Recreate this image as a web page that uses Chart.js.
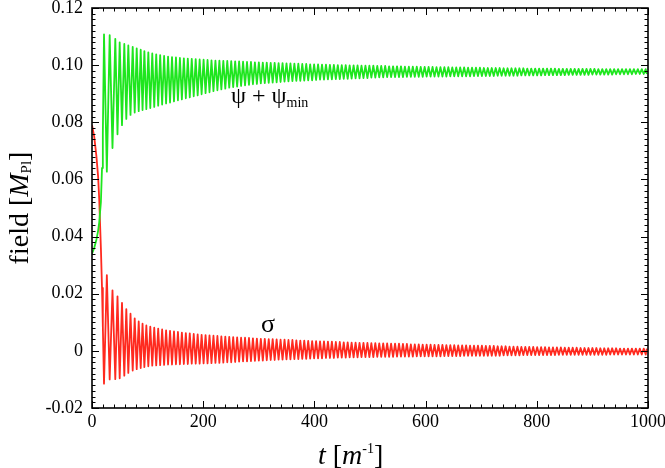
<!DOCTYPE html>
<html>
<head>
<meta charset="utf-8">
<script src="https://cdn.jsdelivr.net/npm/chart.js@4.4.1/dist/chart.umd.min.js"></script>
<style>
  html, body { margin: 0; padding: 0; background: #fff; }
</style>
</head>
<body>
<canvas id="fieldChart" width="665" height="468"></canvas>
<script>
// tick labels
const xTicks = [0, 200, 400, 600, 800, 1000];
const yTicks = [-0.02, 0, 0.02, 0.04, 0.06, 0.08, 0.10, 0.12];

// start of the run, before the first extremum
const tStart = [0, 4, 8, 11, 13, 16, 18, 19.5];
const psiStart = [0.034, 0.036, 0.039, 0.042, 0.045, 0.052, 0.064, 0.076];
const sigmaStart = [0.079, 0.075, 0.068, 0.061, 0.053, 0.036, 0.022, 0.0085];

// times of the psi maxima (= sigma minima)
const cycleT = [21.6, 31.8, 41.9, 49.8, 58.1, 65.3, 73.2, 80.4, 87.6, 94.2,
  101.3, 108.4, 115.5, 122.6, 129.7, 136.8, 143.9, 151.0, 158.1, 165.2,
  172.3, 179.4, 186.5, 193.6, 200.7, 207.8, 214.9, 222.0, 229.1, 236.2,
  243.3, 250.4, 257.5, 264.6, 271.7, 278.8, 285.9, 293.0, 300.1, 307.2,
  314.3, 321.4, 328.5, 335.6, 342.7, 349.8, 356.9, 364.0, 371.1, 378.2,
  385.3, 392.4, 399.5, 406.6, 413.7, 420.8, 427.9, 435.0, 442.1, 449.2,
  456.3, 463.4, 470.5, 477.6, 484.7, 491.8, 498.9, 506.0, 513.1, 520.2,
  527.3, 534.4, 541.5, 548.6, 555.7, 562.8, 569.9, 577.0, 584.1, 591.2,
  598.3, 605.4, 612.5, 619.6, 626.7, 633.8, 640.9, 648.0, 655.1, 662.2,
  669.3, 676.4, 683.5, 690.6, 697.7, 704.8, 711.9, 719.0, 726.1, 733.2,
  740.3, 747.4, 754.5, 761.6, 768.7, 775.8, 782.9, 790.0, 797.1, 804.2,
  811.3, 818.4, 825.5, 832.6, 839.7, 846.8, 853.9, 861.0, 868.1, 875.2,
  882.3, 889.4, 896.5, 903.6, 910.7, 917.8, 924.9, 932.0, 939.1, 946.2,
  953.3, 960.4, 967.5, 974.6, 981.7, 988.8, 995.9];

// psi + psi_min : maxima and the following minima
const psiHigh = [0.1108, 0.1105, 0.1092, 0.1080, 0.1074, 0.1069, 0.1064, 0.1059, 0.1054, 0.1049,
  0.1045, 0.1041, 0.1038, 0.1035, 0.1032, 0.1030, 0.1028, 0.1027, 0.1025, 0.1024,
  0.1023, 0.1022, 0.1021, 0.1020, 0.1019, 0.1018, 0.1017, 0.1016, 0.1016, 0.1015,
  0.1015, 0.1014, 0.1013, 0.1013, 0.1012, 0.1011, 0.1011, 0.1010, 0.1010, 0.1009,
  0.1009, 0.1008, 0.1008, 0.1007, 0.1007, 0.1006, 0.1006, 0.1005, 0.1005, 0.1004,
  0.1004, 0.1003, 0.1003, 0.1003, 0.1002, 0.1002, 0.1001, 0.1001, 0.1000, 0.1000,
  0.1000, 0.0999, 0.0999, 0.0999, 0.0998, 0.0998, 0.0998, 0.0998, 0.0997, 0.0997,
  0.0997, 0.0996, 0.0996, 0.0996, 0.0996, 0.0995, 0.0995, 0.0995, 0.0995, 0.0994,
  0.0994, 0.0994, 0.0994, 0.0993, 0.0993, 0.0993, 0.0993, 0.0992, 0.0992, 0.0992,
  0.0992, 0.0991, 0.0991, 0.0991, 0.0991, 0.0990, 0.0990, 0.0990, 0.0990, 0.0990,
  0.0989, 0.0989, 0.0989, 0.0989, 0.0989, 0.0989, 0.0988, 0.0988, 0.0988, 0.0988,
  0.0988, 0.0988, 0.0988, 0.0988, 0.0987, 0.0987, 0.0987, 0.0987, 0.0987, 0.0987,
  0.0987, 0.0987, 0.0987, 0.0987, 0.0986, 0.0986, 0.0986, 0.0986, 0.0986, 0.0986,
  0.0986, 0.0986, 0.0986, 0.0986, 0.0986, 0.0986, 0.0986];
const psiLow = [0.0627, 0.0710, 0.0758, 0.0790, 0.0812, 0.0826, 0.0834, 0.0839, 0.0843, 0.0846,
  0.0850, 0.0854, 0.0858, 0.0862, 0.0866, 0.0869, 0.0873, 0.0877, 0.0880, 0.0884,
  0.0887, 0.0891, 0.0894, 0.0898, 0.0902, 0.0905, 0.0909, 0.0912, 0.0915, 0.0918,
  0.0921, 0.0923, 0.0925, 0.0927, 0.0929, 0.0931, 0.0933, 0.0934, 0.0936, 0.0937,
  0.0938, 0.0939, 0.0940, 0.0941, 0.0942, 0.0943, 0.0944, 0.0945, 0.0945, 0.0946,
  0.0947, 0.0947, 0.0948, 0.0949, 0.0949, 0.0950, 0.0950, 0.0951, 0.0951, 0.0952,
  0.0952, 0.0953, 0.0954, 0.0954, 0.0955, 0.0955, 0.0956, 0.0956, 0.0957, 0.0957,
  0.0958, 0.0958, 0.0958, 0.0958, 0.0958, 0.0959, 0.0959, 0.0959, 0.0959, 0.0959,
  0.0960, 0.0960, 0.0960, 0.0960, 0.0960, 0.0960, 0.0961, 0.0961, 0.0961, 0.0961,
  0.0961, 0.0961, 0.0962, 0.0962, 0.0962, 0.0962, 0.0962, 0.0962, 0.0963, 0.0963,
  0.0963, 0.0963, 0.0963, 0.0963, 0.0964, 0.0964, 0.0964, 0.0964, 0.0964, 0.0964,
  0.0965, 0.0965, 0.0965, 0.0965, 0.0965, 0.0965, 0.0966, 0.0966, 0.0966, 0.0966,
  0.0966, 0.0966, 0.0967, 0.0967, 0.0967, 0.0967, 0.0967, 0.0967, 0.0968, 0.0968,
  0.0968, 0.0968, 0.0968, 0.0969, 0.0969, 0.0969, 0.0969];

// sigma : minima (at cycleT) and the following maxima
const sigmaLow = [-0.0115, -0.0100, -0.0099, -0.0096, -0.0087, -0.0077, -0.0069, -0.0064, -0.0060, -0.0057,
  -0.0054, -0.0052, -0.0051, -0.0050, -0.0049, -0.0048, -0.0048, -0.0047, -0.0047, -0.0046,
  -0.0046, -0.0045, -0.0045, -0.0045, -0.0044, -0.0044, -0.0043, -0.0042, -0.0042, -0.0041,
  -0.0040, -0.0040, -0.0039, -0.0038, -0.0037, -0.0037, -0.0036, -0.0035, -0.0034, -0.0034,
  -0.0033, -0.0032, -0.0032, -0.0031, -0.0031, -0.0030, -0.0030, -0.0029, -0.0029, -0.0028,
  -0.0028, -0.0027, -0.0026, -0.0026, -0.0026, -0.0025, -0.0025, -0.0025, -0.0024, -0.0024,
  -0.0024, -0.0023, -0.0023, -0.0023, -0.0022, -0.0022, -0.0022, -0.0022, -0.0021, -0.0021,
  -0.0021, -0.0021, -0.0021, -0.0020, -0.0020, -0.0020, -0.0020, -0.0020, -0.0019, -0.0019,
  -0.0019, -0.0019, -0.0019, -0.0019, -0.0019, -0.0018, -0.0018, -0.0018, -0.0018, -0.0018,
  -0.0017, -0.0017, -0.0017, -0.0017, -0.0017, -0.0017, -0.0017, -0.0017, -0.0017, -0.0017,
  -0.0016, -0.0016, -0.0016, -0.0016, -0.0016, -0.0015, -0.0015, -0.0015, -0.0015, -0.0015,
  -0.0015, -0.0015, -0.0015, -0.0015, -0.0014, -0.0014, -0.0014, -0.0014, -0.0014, -0.0014,
  -0.0014, -0.0014, -0.0014, -0.0014, -0.0014, -0.0014, -0.0014, -0.0013, -0.0013, -0.0013,
  -0.0013, -0.0013, -0.0013, -0.0013, -0.0013, -0.0013, -0.0013];
const sigmaHigh = [0.0265, 0.0212, 0.0191, 0.0168, 0.0146, 0.0130, 0.0114, 0.0103, 0.0095, 0.0089,
  0.0085, 0.0081, 0.0078, 0.0075, 0.0072, 0.0070, 0.0068, 0.0066, 0.0064, 0.0062,
  0.0061, 0.0059, 0.0058, 0.0056, 0.0055, 0.0054, 0.0053, 0.0052, 0.0051, 0.0050,
  0.0049, 0.0048, 0.0047, 0.0046, 0.0046, 0.0045, 0.0044, 0.0043, 0.0042, 0.0042,
  0.0041, 0.0041, 0.0040, 0.0039, 0.0039, 0.0038, 0.0038, 0.0037, 0.0036, 0.0036,
  0.0035, 0.0034, 0.0034, 0.0033, 0.0033, 0.0032, 0.0032, 0.0031, 0.0031, 0.0030,
  0.0030, 0.0029, 0.0029, 0.0028, 0.0028, 0.0028, 0.0027, 0.0027, 0.0026, 0.0026,
  0.0026, 0.0025, 0.0025, 0.0025, 0.0024, 0.0024, 0.0023, 0.0023, 0.0023, 0.0022,
  0.0022, 0.0022, 0.0021, 0.0021, 0.0021, 0.0020, 0.0020, 0.0020, 0.0019, 0.0019,
  0.0019, 0.0018, 0.0018, 0.0018, 0.0018, 0.0017, 0.0017, 0.0017, 0.0016, 0.0016,
  0.0016, 0.0015, 0.0015, 0.0015, 0.0014, 0.0014, 0.0014, 0.0014, 0.0013, 0.0013,
  0.0013, 0.0012, 0.0012, 0.0012, 0.0012, 0.0011, 0.0011, 0.0011, 0.0011, 0.0010,
  0.0010, 0.0010, 0.0010, 0.0010, 0.0009, 0.0009, 0.0009, 0.0009, 0.0009, 0.0008,
  0.0008, 0.0008, 0.0008, 0.0008, 0.0008, 0.0008, 0.0008];

const SERIF = '"Liberation Serif", "Times New Roman", serif';
const GREEN = '#1ee61e';
const RED = '#ff2a1f';

// build the point lists: start, then max/min pairs (minimum halfway to the next maximum)
function buildSeries(start, high, low) {
  const pts = tStart.map((t, i) => ({ x: t, y: start[i] }));
  cycleT.forEach((t, k) => {
    pts.push({ x: t, y: high[k] });
    const next = k + 1 < cycleT.length ? cycleT[k + 1] : 1000;
    pts.push({ x: Math.min((t + next) / 2, 1000), y: low[k] });
  });
  return pts;
}
const psiPoints = buildSeries(psiStart, psiHigh, psiLow);
const sigmaPoints = buildSeries(sigmaStart, sigmaLow, sigmaHigh);

// frame with inward ticks on all four sides
const framePlugin = {
  id: 'frame',
  afterDraw(chart) {
    const { ctx, chartArea: a, scales: { x, y } } = chart;
    ctx.save();
    ctx.strokeStyle = '#000';
    ctx.lineWidth = 1;
    ctx.beginPath();
    const xTick = (v, len) => {
      const px = Math.round(x.getPixelForValue(v)) + 0.5;
      ctx.moveTo(px, a.bottom); ctx.lineTo(px, a.bottom - len);
      ctx.moveTo(px, a.top); ctx.lineTo(px, a.top + len);
    };
    const yTick = (v, len) => {
      const py = Math.round(y.getPixelForValue(v)) + 0.5;
      ctx.moveTo(a.left, py); ctx.lineTo(a.left + len, py);
      ctx.moveTo(a.right, py); ctx.lineTo(a.right - len, py);
    };
    xTicks.forEach((v, i) => {
      xTick(v, 7);
      if (i < xTicks.length - 1) {
        for (let m = 1; m < 10; m++) xTick(v + (xTicks[i + 1] - v) * m / 10, 3.5);
      }
    });
    yTicks.forEach((v, i) => {
      yTick(v, 7);
      if (i < yTicks.length - 1) {
        for (let m = 1; m < 10; m++) yTick(v + (yTicks[i + 1] - v) * m / 10, 3.5);
      }
    });
    ctx.stroke();
    ctx.lineWidth = 1.6;
    ctx.strokeRect(a.left, a.top, a.right - a.left, a.bottom - a.top);
    ctx.restore();
  }
};

// axis titles and curve labels with mixed italic / sub / superscript
function drawParts(ctx, parts, x0, y0, center) {
  let total = 0;
  parts.forEach(p => { ctx.font = p[1]; total += ctx.measureText(p[0]).width; });
  let cx = center ? x0 - total / 2 : x0;
  parts.forEach(p => {
    ctx.font = p[1];
    ctx.fillText(p[0], cx, y0 + (p[2] || 0));
    cx += ctx.measureText(p[0]).width;
  });
}

const textPlugin = {
  id: 'texts',
  afterDraw(chart) {
    const { ctx, chartArea: a, scales: { x, y } } = chart;
    ctx.save();
    ctx.fillStyle = '#000';
    ctx.textBaseline = 'alphabetic';
    ctx.textAlign = 'left';

    // x title
    drawParts(ctx, [
      ['t', 'italic 28px ' + SERIF],
      [' [', '28px ' + SERIF],
      ['m', 'italic 28px ' + SERIF],
      ['-1', '14px ' + SERIF, -11],
      [']', '28px ' + SERIF]
    ], 318, 464, false);

    // y title
    ctx.save();
    ctx.translate(28, (a.top + a.bottom) / 2);
    ctx.rotate(-Math.PI / 2);
    drawParts(ctx, [
      ['field [', '28px ' + SERIF],
      ['M', 'italic 28px ' + SERIF],
      ['Pl', '15px ' + SERIF, 3],
      [']', '28px ' + SERIF]
    ], 0, 0, true);
    ctx.restore();

    // curve labels
    const px = x.getPixelForValue(250), py = y.getPixelForValue(0.0867);
    drawParts(ctx, [
      ['ψ', '24px ' + SERIF],
      [' + ', '24px ' + SERIF],
      ['ψ', '24px ' + SERIF],
      ['min', '14px ' + SERIF, 4]
    ], px, py, false);
    drawParts(ctx, [['σ', '26px ' + SERIF]], x.getPixelForValue(304), y.getPixelForValue(0.0065), false);
    ctx.restore();
  }
};

new Chart(document.getElementById('fieldChart'), {
  type: 'line',
  data: {
    datasets: [
      { label: 'psi + psi_min', data: psiPoints, borderColor: GREEN, borderWidth: 1.8,
        borderJoinStyle: 'round', pointRadius: 0, tension: 0 },
      { label: 'sigma', data: sigmaPoints, borderColor: RED, borderWidth: 1.8,
        borderJoinStyle: 'round', pointRadius: 0, tension: 0 }
    ]
  },
  options: {
    responsive: false,
    animation: false,
    devicePixelRatio: 1,
    layout: { padding: { left: 0, top: 8, right: 17, bottom: 0 } },
    plugins: { legend: { display: false }, tooltip: { enabled: false } },
    scales: {
      x: {
        type: 'linear', min: 0, max: 1000,
        afterBuildTicks: s => { s.ticks = xTicks.map(v => ({ value: v })); },
        afterFit: s => { s.height = 60; s.paddingLeft = 0; s.paddingRight = 0; },
        grid: { display: false, drawTicks: false },
        border: { display: false },
        ticks: {
          padding: 3, color: '#000', font: { family: SERIF, size: 18 }, maxRotation: 0,
          callback: v => String(v)
        }
      },
      y: {
        type: 'linear', min: -0.02, max: 0.12,
        afterBuildTicks: s => { s.ticks = yTicks.map(v => ({ value: v })); },
        afterFit: s => { s.width = 92; s.paddingTop = 0; s.paddingBottom = 0; },
        grid: { display: false, drawTicks: false },
        border: { display: false },
        ticks: {
          padding: 9, color: '#000', font: { family: SERIF, size: 18 },
          callback: v => Math.abs(v) < 1e-9 ? '0' : v.toFixed(2)
        }
      }
    }
  },
  plugins: [framePlugin, textPlugin]
});
</script>
</body>
</html>
